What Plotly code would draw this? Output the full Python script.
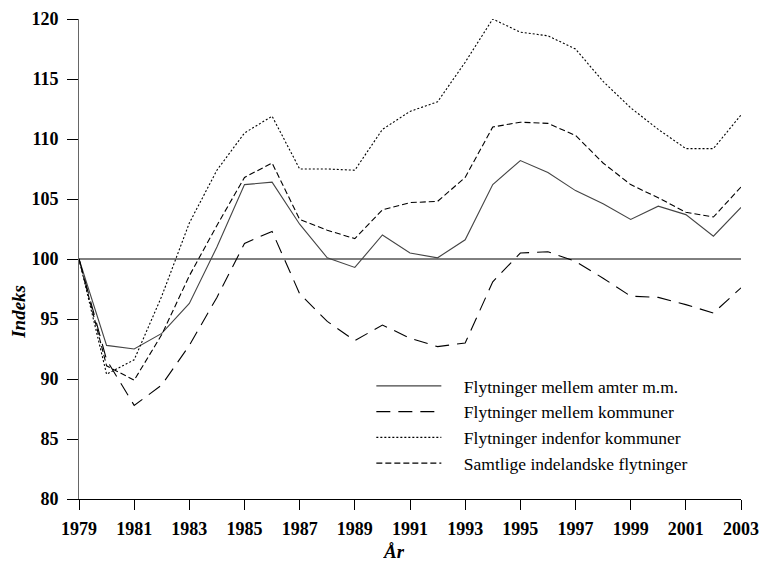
import plotly.graph_objects as go

years = list(range(1979, 2004))

amter = [100, 92.8, 92.5, 93.8, 96.3, 101.0, 106.2, 106.4, 102.9, 100.1, 99.3,
         102.0, 100.5, 100.1, 101.6, 106.2, 108.2, 107.2, 105.7, 104.6, 103.3,
         104.4, 103.7, 101.9, 104.3]
mellem_kommuner = [100, 91.6, 87.8, 89.5, 92.8, 96.8, 101.3, 102.3, 97.1, 94.8, 93.2,
                   94.5, 93.4, 92.7, 93.0, 98.1, 100.5, 100.6, 99.8, 98.4, 96.9,
                   96.8, 96.2, 95.5, 97.6]
indenfor = [100, 90.4, 91.6, 96.9, 103.0, 107.4, 110.5, 111.9, 107.5, 107.5, 107.4,
            110.8, 112.3, 113.1, 116.4, 120.0, 118.9, 118.6, 117.5, 114.8, 112.6,
            110.8, 109.2, 109.2, 112.0]
samtlige = [100, 91.1, 89.9, 93.7, 98.6, 102.8, 106.8, 108.0, 103.3, 102.4, 101.7,
            104.1, 104.7, 104.8, 106.8, 111.0, 111.4, 111.3, 110.3, 108.0, 106.2,
            105.1, 103.9, 103.5, 106.0]

names = ["Flytninger mellem amter m.m.", "Flytninger mellem kommuner",
         "Flytninger indenfor kommuner", "Samtlige indelandske flytninger"]
series = [amter, mellem_kommuner, indenfor, samtlige]
dashes = ["solid", "14px,8px", "2px,2px", "6px,3px"]
colors = ["#444444", "#000000", "#000000", "#000000"]

x_ticks = list(range(1979, 2004, 2))
y_ticks = list(range(80, 121, 5))
x_title = "År"
y_title = "Indeks"

pad = "\u00a0" * 4

fig = go.Figure()
for i, (nm, s) in enumerate(zip(names, series)):
    fig.add_trace(go.Scatter(x=years, y=s, mode="lines", name=pad + nm,
                             legendgroup=f"g{i}",
                             line=dict(color=colors[i], width=1.1, dash=dashes[i])))

fig.add_hline(y=100, line=dict(color="black", width=1), layer="below")

font_family = "Times New Roman, Liberation Serif, serif"
fig.update_layout(
    width=764, height=562,
    margin=dict(l=79, r=23, t=19, b=63),
    paper_bgcolor="white", plot_bgcolor="white",
    font=dict(family=font_family, color="black"),
    showlegend=True,
    legend=dict(x=0.4416, y=0.273, xanchor="left", yanchor="top",
                bgcolor="rgba(0,0,0,0)", font=dict(size=17.5, family=font_family),
                itemwidth=65, tracegroupgap=3, traceorder="normal"),
    xaxis=dict(range=[1979, 2003], tickvals=x_ticks, ticktext=[str(t) for t in x_ticks],
               automargin=False,
               showgrid=False, zeroline=False, showline=True, linecolor="black", linewidth=1,
               ticks="outside", ticklen=10, tickcolor="black", tickwidth=1,
               ticklabelstandoff=3,
               tickfont=dict(size=18, family=font_family, weight="bold")),
    yaxis=dict(range=[80, 120], tickvals=y_ticks, showgrid=False, zeroline=False,
               automargin=False,
               showline=True, linecolor="#666666", linewidth=1,
               ticks="outside", ticklen=11, tickcolor="black", tickwidth=1,
               ticklabelstandoff=5,
               tickfont=dict(size=18, family=font_family, weight="bold")),
    annotations=[
        dict(text=f"<b><i>{x_title}</i></b>", xref="paper", yref="paper",
             x=0.476, y=-0.1085, xanchor="center", yanchor="middle", showarrow=False,
             height=18, valign="middle",
             font=dict(size=19, family=font_family)),
        dict(text=f"<b><i>{y_title}</i></b>", xref="paper", yref="paper",
             x=-0.0906, y=0.39, xanchor="center", yanchor="middle", showarrow=False,
             textangle=-90, font=dict(size=19, family=font_family)),
    ],
)

fig.write_html("out.html", config={"displayModeBar": False},
               post_script="document.body.style.margin='0px';document.body.style.overflow='hidden';")
